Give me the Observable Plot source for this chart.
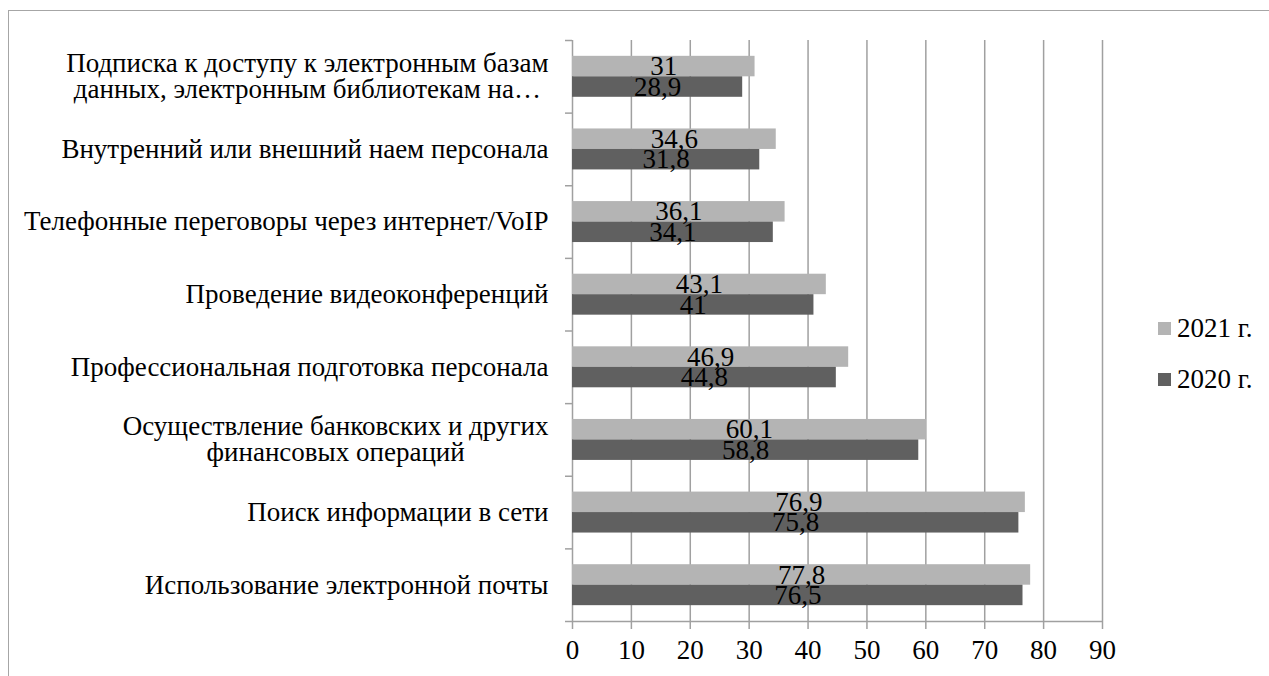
<!DOCTYPE html>
<html>
<head>
<meta charset="utf-8">
<script src="https://cdn.jsdelivr.net/npm/d3@7"></script>
<script src="https://cdn.jsdelivr.net/npm/@observablehq/plot@0.6"></script>
<style>
  html, body { margin: 0; padding: 0; background: #fff; }
  #wrap { position: relative; width: 1269px; height: 676px; overflow: hidden;
          font-family: "Liberation Serif", "Times New Roman", serif; color: #000; }
  #frame { position: absolute; left: 8px; top: 10px; width: 1400px; height: 800px;
           border-top: 1.5px solid #a6a6a6; border-left: 1.5px solid #a6a6a6; box-sizing: border-box; }
  #chart { position: absolute; left: 0; top: 0; }
  #chart svg, #chart svg text, #chart svg g { font-family: "Liberation Serif", "Times New Roman", serif !important; }
  #legend { position: absolute; left: 1158px; top: 303px; font-size: 27px; }
  .item { display: flex; align-items: center; height: 51px; }
  .sw { width: 13px; height: 13px; margin-right: 6px; }
</style>
</head>
<body>
<div id="wrap">
  <div id="frame"></div>
  <div id="chart"></div>
  <div id="legend"></div>
</div>
<script>
// ---- data ----
const categories = [
  "Подписка к доступу к электронным базам\nданных, электронным библиотекам на…",
  "Внутренний или внешний наем персонала",
  "Телефонные переговоры через интернет/VoIP",
  "Проведение видеоконференций",
  "Профессиональная подготовка персонала",
  "Осуществление банковских и других\nфинансовых операций",
  "Поиск информации в сети",
  "Использование электронной почты"
];
const values2021 = [31, 34.6, 36.1, 43.1, 46.9, 60.1, 76.9, 77.8];
const values2020 = [28.9, 31.8, 34.1, 41, 44.8, 58.8, 75.8, 76.5];
const seriesNames = ["2021 г.", "2020 г."];
const seriesColors = ["#b4b4b4", "#606060"];
const xTicks = [0, 10, 20, 30, 40, 50, 60, 70, 80, 90];

// ---- build table ----
const half = 0.282; // bar thickness in category units
const rows = [];
categories.forEach((c, i) => {
  rows.push({cat: c, idx: i, series: seriesNames[0], value: values2021[i], y1: i - half, y2: i});
  rows.push({cat: c, idx: i, series: seriesNames[1], value: values2020[i], y1: i, y2: i + half});
});
const catRows = categories.map((c, i) => ({cat: c, idx: i}));
const boundaries = d3.range(categories.length + 1).map(i => i - 0.5);
const fmt = v => String(v).replace(".", ",");
const grid = "#a0a0a0";
const serif = '"Liberation Serif", "Times New Roman", serif';
const fs = 27;

const chart = Plot.plot({
  width: 1269,
  height: 676,
  marginLeft: 572,
  marginRight: 167,
  marginTop: 40,
  marginBottom: 55,
  style: {fontFamily: serif, fontSize: fs + "px", background: "transparent", color: "#000"},
  x: {domain: [0, 90], label: null},
  y: {domain: [-0.5, categories.length - 0.5], reverse: true, label: null},
  color: {domain: seriesNames, range: seriesColors},
  marks: [
    Plot.ruleX(xTicks, {stroke: grid, strokeWidth: 1.5}),
    Plot.rectX(rows, {x1: 0, x2: "value", y1: "y1", y2: "y2", fill: "series"}),
    Plot.ruleY([categories.length - 0.5], {stroke: grid, strokeWidth: 1.5}),
    Plot.axisX({ticks: xTicks, tickSize: 8, tickPadding: 10, stroke: grid, strokeWidth: 1.5, fill: "#000", tickFormat: d => String(d), fontSize: fs, fontFamily: serif}),
    Plot.axisY({ticks: boundaries, tickSize: 7, stroke: grid, strokeWidth: 1.5, tickFormat: () => ""}),
    Plot.text(rows, {x: d => d.value / 2, y: d => (d.y1 + d.y2) / 2, text: d => fmt(d.value), fill: "#000", fontSize: fs, fontFamily: serif}),
    Plot.text(catRows, {x: 0, y: "idx", text: "cat", dx: -24, textAnchor: "end", lineHeight: 0.97, fill: "#000", fontSize: fs, fontFamily: serif})
  ]
});
document.getElementById("chart").appendChild(chart);

// center lines of multi-line category labels (Excel style)
chart.querySelectorAll("text").forEach(t => {
  const spans = t.querySelectorAll("tspan");
  if (spans.length > 1) {
    const w = Math.max(...[...spans].map(s => s.getComputedTextLength()));
    t.setAttribute("text-anchor", "middle");
    t.style.textAnchor = "middle";
    spans.forEach(s => s.setAttribute("x", -w / 2));
  }
});

// legend
const legend = document.getElementById("legend");
seriesNames.forEach((name, i) => {
  const item = document.createElement("div");
  item.className = "item";
  const sw = document.createElement("div");
  sw.className = "sw";
  sw.style.background = seriesColors[i];
  const lab = document.createElement("span");
  lab.textContent = name;
  item.appendChild(sw);
  item.appendChild(lab);
  legend.appendChild(item);
});
</script>
</body>
</html>
